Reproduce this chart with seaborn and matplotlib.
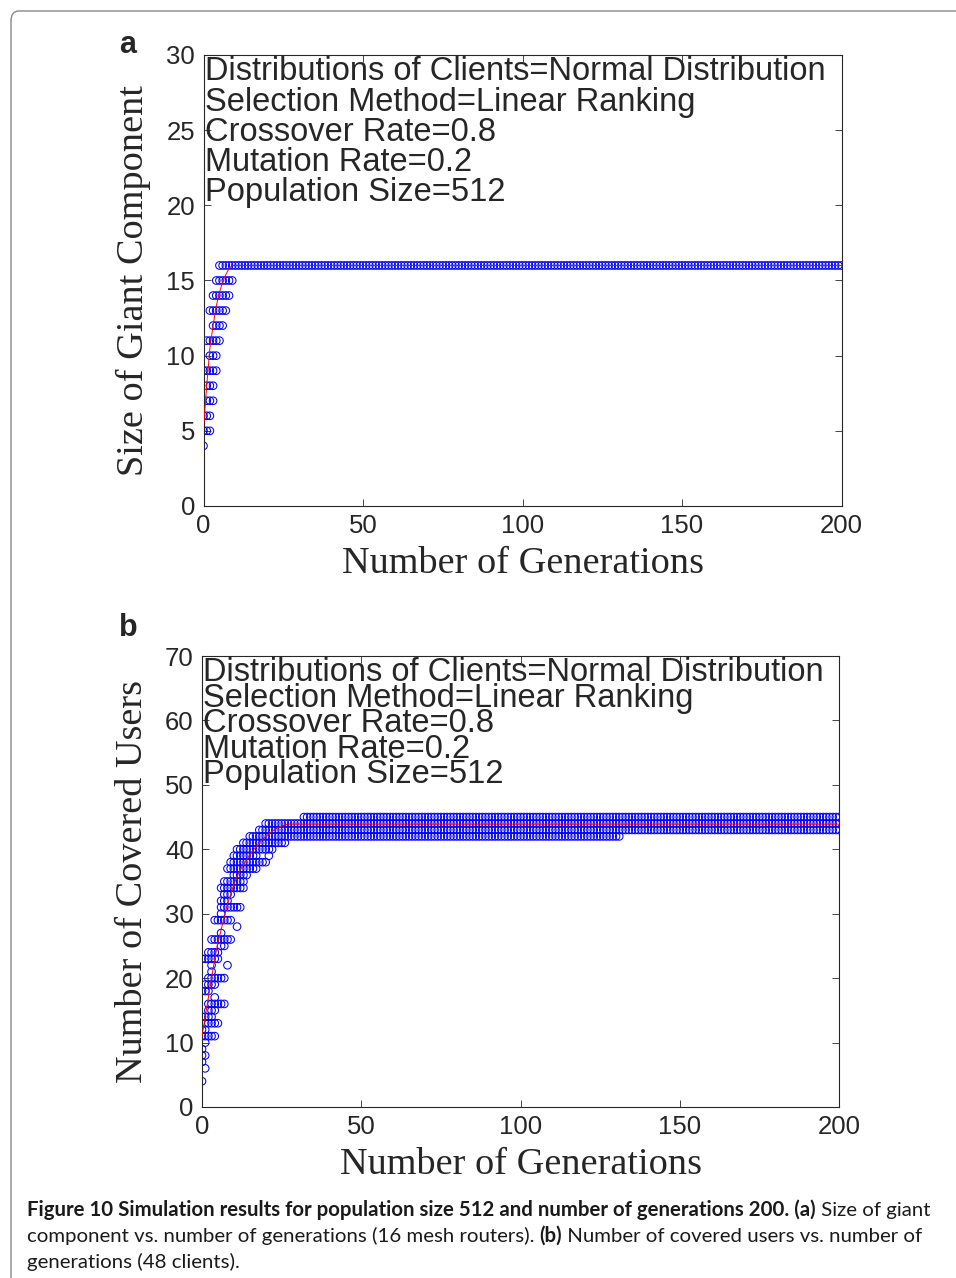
import numpy as np
import pandas as pd
import seaborn as sns
import matplotlib.pyplot as plt
from matplotlib.patches import FancyBboxPatch

# panel a: (value, first generation, last generation) of the circles seen
rows_a = [(16, 5, 200), (15, 4, 9), (14, 3, 8), (13, 2, 7), (12, 3, 6), (11, 1, 5),
          (10, 2, 4), (9, 0, 4), (8, 1, 3), (7, 1, 3), (6, 0, 2), (5, 0, 2), (4, 0, 0)]
mean_a = [5.2, 8.0, 10.5, 12.0, 13.3, 14.2, 14.9, 15.4, 15.8, 16.0]
plateau_a = 16.0

# panel b
rows_b = [(45, 32, 200), (44, 20, 200), (43, 18, 200), (42, 15, 131), (41, 13, 26),
          (40, 11, 22), (39, 10, 17), (39, 21, 21), (38, 9, 20), (37, 8, 17), (36, 10, 14),
          (35, 7, 13), (34, 6, 13), (33, 7, 9), (32, 6, 8), (31, 6, 12), (30, 6, 6),
          (29, 4, 9), (28, 11, 11), (27, 6, 6), (26, 3, 9), (25, 6, 7), (24, 2, 5),
          (23, 0, 5), (22, 3, 3), (22, 8, 8), (21, 3, 3), (20, 2, 7), (19, 1, 4),
          (18, 0, 2), (17, 4, 4), (16, 2, 7), (15, 2, 4), (14, 0, 3), (13, 1, 5),
          (12, 0, 1), (11, 0, 4), (10, 1, 1), (9, 0, 0), (8, 0, 1), (7, 0, 0), (6, 1, 1), (4, 0, 0)]
mean_b = [11.0, 14.0, 17.0, 20.0, 23.0, 25.5, 27.5, 29.5, 31.5, 33.0, 34.5, 35.8, 36.8,
          37.6, 38.4, 39.1, 39.8, 40.4, 41.0, 41.5, 42.0, 42.4, 42.8, 43.1, 43.4, 43.6, 43.8]
plateau_b = 43.9

n_gen = 200
info = ["Distributions of Clients=Normal Distribution",
        "Selection Method=Linear Ranking",
        "Crossover Rate=0.8",
        "Mutation Rate=0.2",
        "Population Size=512"]


def expand(rows):
    pts = [(g, v) for v, g0, g1 in rows for g in range(g0, g1 + 1)]
    return pd.DataFrame(pts, columns=["gen", "value"])


def mean_line(early, plateau):
    vals = early + [plateau] * (n_gen + 1 - len(early))
    return pd.DataFrame({"gen": np.arange(n_gen + 1), "value": vals})


sns.set_style("ticks")
plt.rcParams["font.family"] = ["Liberation Sans", "DejaVu Sans"]

W, H = 956, 1278
fig = plt.figure(figsize=(W / 100, H / 100), dpi=100)

# rounded frame of the figure page
frame = FancyBboxPatch((11 / W, -0.05), 1.2, 1 - 11 / H + 0.05,
                       boxstyle="round,pad=0,rounding_size=0.008",
                       transform=fig.transFigure, fc="none", ec="#888888", lw=1.0)
fig.patches.append(frame)

ax_a = fig.add_axes([203.5 / W, 1 - 506 / H, 638 / W, 451 / H])
ax_b = fig.add_axes([202 / W, 1 - 1107 / H, 637 / W, 451 / H])

panels = [
    (ax_a, rows_a, mean_a, plateau_a, 30, "Size of Giant Component", 0.97, "a", 45),
    (ax_b, rows_b, mean_b, plateau_b, 70, "Number of Covered Users", 0.77, "b", 628),
]

for ax, rows, mean, plateau, ymax, ylab, lsp, tag, tag_y in panels:
    pts = expand(rows)
    sns.scatterplot(data=pts, x="gen", y="value", ax=ax, marker="o", s=30,
                    facecolor="none", edgecolor="blue", linewidth=0.75, zorder=2)
    sns.lineplot(data=mean_line(mean, plateau), x="gen", y="value", ax=ax,
                 color="red", linewidth=0.7, zorder=3)
    ax.set_xlim(0, 200)
    ax.set_ylim(0, ymax)
    ax.set_xticks(range(0, 201, 50))
    ax.set_yticks(range(0, ymax + 1, 5 if ymax == 30 else 10))
    ax.tick_params(direction="in", length=5, width=0.6, top=True, right=True,
                   labelsize=18.5, pad=6)
    for sp in ax.spines.values():
        sp.set_linewidth(0.8)
        sp.set_visible(True)
    ax.set_xlabel("Number of Generations", family="Liberation Serif", fontsize=27.5)
    ax.set_ylabel(ylab, family="Liberation Serif", fontsize=27.5)
    ax.xaxis.set_label_coords(0.5, -0.09)
    ax.yaxis.set_label_coords(-0.082, 0.5)
    ax.text(0.002, 0.997, "\n".join(info), transform=ax.transAxes, ha="left", va="top",
            fontsize=23.5, linespacing=lsp)
    fig.text(128 / W, 1 - tag_y / H, tag, fontsize=22, fontweight="bold",
             ha="center", va="center")

# caption with bold and regular parts
cap_lines = [
    [("Figure 10 Simulation results for population size 512 and number of generations 200. (a)", "bold"),
     (" Size of giant", "normal")],
    [("component vs. number of generations (16 mesh routers). ", "normal"),
     ("(b)", "bold"),
     (" Number of covered users vs. number of", "normal")],
    [("generations (48 clients).", "normal")],
]
cap_base = [1216, 1242, 1268]
renderer = fig.canvas.get_renderer()
for parts, yb in zip(cap_lines, cap_base):
    x = 27
    for txt, wt in parts:
        t = fig.text(x / W, 1 - yb / H, txt, fontsize=14.7, fontweight=wt,
                     family=["Lato", "DejaVu Sans"], ha="left", va="baseline",
                     color="#1a1a1a")
        x += t.get_window_extent(renderer).width

fig.savefig("out.png", dpi=100, facecolor="white")
